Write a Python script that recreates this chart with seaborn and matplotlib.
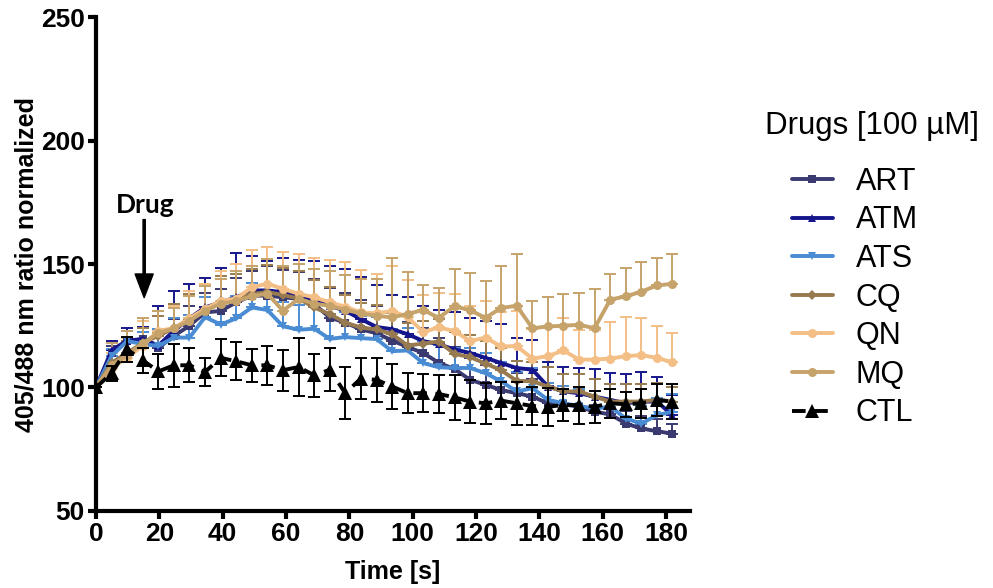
import numpy as np
import matplotlib
matplotlib.use("Agg")
import matplotlib.pyplot as plt
import seaborn as sns

# time points [s]
times = [0, 4.9, 9.8, 14.8, 19.7, 24.6, 29.5, 34.4, 39.4, 44.3, 49.2, 54.1, 59.0,
         64.0, 68.9, 73.8, 78.7, 83.6, 88.6, 93.5, 98.4, 103.3, 108.2, 113.2, 118.1,
         123.0, 127.9, 132.8, 137.8, 142.7, 147.6, 152.5, 157.4, 162.4, 167.3, 172.2,
         177.1, 182.0]

# mean ratios
art = [100, 114, 118.8, 119.6, 116, 120.9, 125, 130.4, 131, 134.5, 137.2, 137.2, 136.5,
       135.9, 133.8, 128.3, 126.3, 123.5, 122, 119, 116.4, 114, 110, 107.5, 103.1, 101.1,
       99, 97.7, 96.3, 93.6, 93.2, 92.2, 90.2, 89.1, 85.4, 83.4, 82.3, 81.3]
atm = [100, 115, 119, 119.6, 117, 123, 128, 132.4, 134.5, 136.5, 139.3, 139.3, 138.6,
       136.5, 135.2, 133.1, 131.1, 127.7, 124.5, 123.6, 121.6, 118.8, 117.5, 115.4, 114,
       112, 109.9, 107.9, 107.2, 100.4, 98.4, 97.7, 96.3, 95, 93.6, 94.3, 94.3, 88.8]
ats = [100, 112.7, 118.8, 117.6, 116.8, 120.2, 120.2, 128.5, 125.5, 128, 132.4, 131.4,
       124.8, 123.4, 123.8, 119.7, 120.4, 120, 119.6, 114.7, 115, 109.9, 108.2, 107.9,
       107.9, 105.8, 102.5, 98.4, 99.7, 95, 93.6, 92.5, 91.5, 92.2, 87.4, 85.4, 88.8, 90.2]
cq = [100, 110, 114, 118, 121, 124, 127.7, 131.8, 135, 136, 137.9, 138.6, 137.5, 136,
      132.4, 129.7, 126.3, 124.3, 123.5, 121.6, 117, 117.8, 118.6, 113.6, 112.3, 109.7,
      107, 102.7, 102.5, 100.4, 98.4, 98.4, 96.3, 94.3, 94.3, 94.3, 95, 94.3]
qn = [100, 108, 112, 117, 123, 124, 128, 131.8, 135, 136, 140.6, 142, 140, 137.9, 136.5,
      134.5, 132.7, 130.4, 130, 131, 128.5, 122.5, 124.3, 122.9, 118.8, 120.2, 116.6,
      116.8, 111.7, 112.7, 115, 111.3, 111.3, 111.7, 112.7, 113.1, 112, 110.2]
mq = [100, 109, 113, 118, 122, 124, 127, 131, 134, 135, 137, 138, 131.1, 135.9, 134,
      133, 131.5, 130, 129, 128.4, 129.8, 131.4, 128.2, 132.9, 131.3, 128.2, 132.2, 133.1,
      124, 124.7, 125, 125.4, 124, 135.6, 136.9, 138.8, 141.3, 142]
ctl = [100, 105.8, 115.4, 111, 106.5, 109, 109, 106.3, 112, 110.6, 109, 109, 107, 108.3,
       104.9, 107.2, 97.7, 103.6, 103.1, 100.4, 97.7, 97.7, 97.4, 96, 94.3, 93.6, 94.7,
       93.6, 92.5, 92.2, 92.9, 92.9, 92.2, 93.6, 93.2, 93.6, 95, 94.3]

# error bars (SEM)
art_err = [0, 3, 4, 5, 6, 7, 8, 8, 9, 10, 10, 12, 11, 11, 10, 12, 12, 12, 11, 11, 10, 10,
           10, 9, 9, 8, 8, 8, 7, 7, 6, 6, 6, 6, 5, 5, 5, 4]
atm_err = [0, 4, 5, 5, 16, 16, 14, 12, 14, 18, 14, 12, 14, 15, 16, 16, 17, 17, 17, 14, 15,
           14, 14, 15, 14, 15, 16, 12, 12, 10, 10, 10, 11, 11, 12, 12, 10, 8]
ats_err = [0, 3, 4, 5, 7, 8, 9, 8, 8, 9, 10, 10, 10, 10, 10, 10, 10, 9, 9, 9, 9, 9, 9, 8,
           8, 8, 8, 8, 8, 7, 7, 7, 7, 7, 7, 7, 7, 7]
cq_err = [0, 4, 5, 6, 8, 10, 10, 10, 10, 10, 10, 11, 11, 11, 11, 11, 11, 10, 10, 9, 9, 9,
          9, 9, 9, 9, 9, 8, 8, 8, 7, 7, 7, 7, 7, 7, 7, 6]
qn_err = [0, 6, 8, 10, 8, 9, 11, 10, 12, 14, 15, 15, 15, 16, 16, 17, 18, 17, 16, 18, 15,
          15, 14, 15, 14, 15, 14, 14, 12, 12, 13, 12, 12, 15, 16, 15, 13, 12]
mq_err = [0, 9, 10, 10, 9, 8, 10, 10, 10, 12, 12, 14, 18, 14, 14, 14, 14, 14, 15, 24, 17,
          10, 12, 15, 15, 15, 17, 21, 11, 12, 13, 13, 16, 10.5, 11.5, 12, 11, 12]
ctl_err = [0, 3, 5, 5, 7, 8.6, 6.9, 5.5, 7.5, 7.7, 6.7, 8, 8.3, 11.6, 8.6, 8.8, 10.4, 8.3,
           9, 9, 8, 7.6, 7.8, 9.1, 8.6, 8.4, 7.6, 8.7, 7.8, 7.6, 6.5, 7.5, 6.5, 5.8, 5, 5.9,
           6.6, 7.2]

series = [
    ("ART", art, art_err, "#3B3A70", "s", 5.5),
    ("ATM", atm, atm_err, "#16168C", "^", 6),
    ("ATS", ats, ats_err, "#4A8CD4", "v", 6),
    ("CQ", cq, cq_err, "#977A4F", "D", 5),
    ("QN", qn, qn_err, "#F3BF86", "o", 6.5),
    ("MQ", mq, mq_err, "#C6A36A", "o", 6.5),
]

sns.set_style("ticks")
plt.rcParams["font.family"] = ["Liberation Sans", "DejaVu Sans"]
for key in ["axes.edgecolor", "xtick.color", "ytick.color", "text.color", "axes.labelcolor"]:
    plt.rcParams[key] = "black"

fig = plt.figure(figsize=(9.93, 5.88), dpi=100)
ax = fig.add_axes([0.0967, 0.131, 0.598, 0.840])

t = np.array(times)
for name, vals, err, col, mk, ms in series:
    vals = np.array(vals)
    err = np.array(err)
    ax.errorbar(t, vals, yerr=[np.zeros_like(err), err], fmt="none", ecolor=col,
                elinewidth=1.4, capsize=4, capthick=1.4, zorder=2)
    sns.lineplot(x=t, y=vals, ax=ax, color=col, marker=mk, markersize=ms,
                 markeredgewidth=0, linewidth=2.8, label=name, zorder=3)

c = np.array(ctl)
ce = np.array(ctl_err)
ax.errorbar(t, c, yerr=ce, fmt="none", ecolor="black", elinewidth=1.4, capsize=4,
            capthick=1.4, zorder=4)
sns.lineplot(x=t, y=c, ax=ax, color="black", marker="^", markersize=9.5,
             markeredgewidth=0, linewidth=2.8, linestyle=(0, (3.5, 2.2)), label="CTL",
             zorder=5)

ax.set_xlim(0, 187.5)
ax.set_ylim(50, 250)
ax.set_xticks(range(0, 181, 20))
ax.set_yticks([50, 100, 150, 200, 250])
sns.despine(ax=ax)
for s in ["left", "bottom"]:
    ax.spines[s].set_linewidth(3)
ax.tick_params(axis="both", direction="out", length=6, width=3, labelsize=19, pad=2)
for lab in ax.get_xticklabels() + ax.get_yticklabels():
    lab.set_fontweight("bold")
ax.set_xlabel("Time [s]", fontsize=18, fontweight="bold", labelpad=10)
ax.set_ylabel("405/488 nm ratio normalized", fontsize=18, fontweight="bold", labelpad=2)

# drug addition marker
ax.annotate("", xy=(15.2, 136.4), xytext=(15.2, 168),
            arrowprops=dict(facecolor="black", edgecolor="black", width=1.6,
                            headwidth=13, headlength=17, shrink=0))
ax.text(15.5, 174, "Drug", ha="center", va="center", fontsize=19, fontweight="bold",
        family=["Lato", "DejaVu Sans"])

handles, labels = ax.get_legend_handles_labels()
ax.legend(handles, labels, loc="upper left", bbox_to_anchor=(0.785, 0.737),
          bbox_transform=fig.transFigure, frameon=False, fontsize=22,
          handlelength=1.35, handletextpad=0.75, labelspacing=0.28, borderaxespad=0)
fig.text(0.77, 0.785, "Drugs [100 µM]", fontsize=22.5, ha="left", va="center")

fig.savefig("out.png", dpi=100)
